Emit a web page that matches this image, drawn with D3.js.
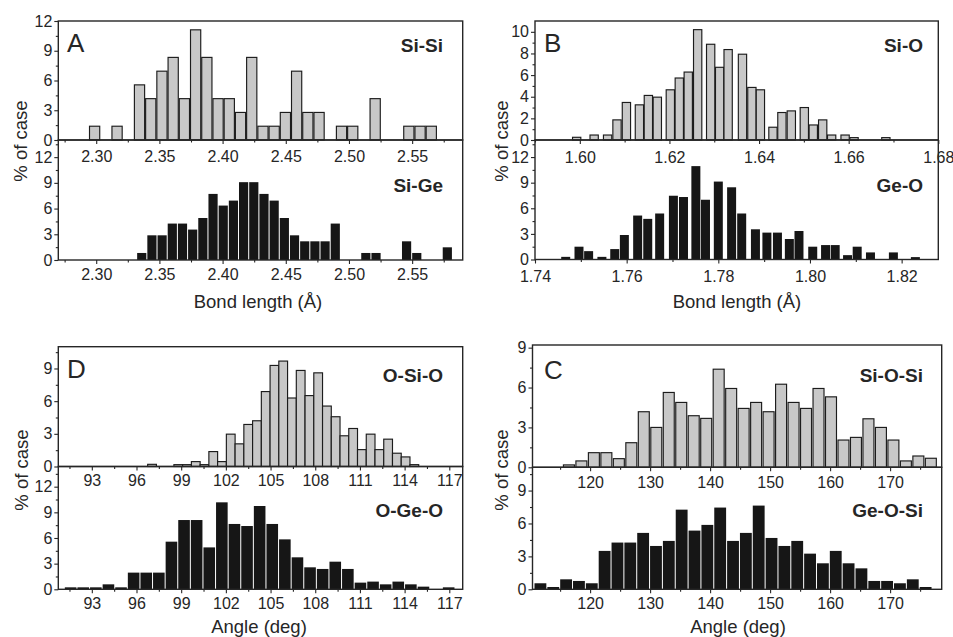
<!DOCTYPE html>
<html><head><meta charset="utf-8">
<script src="https://cdn.jsdelivr.net/npm/d3@7"></script>
<style>
body{margin:0;background:#fff}
svg{display:block}
text{font-family:"Liberation Sans",Arial,Helvetica,sans-serif}
</style>
</head><body>
<svg id="chart" width="953" height="637"></svg>
<script>
// ================= DATA =================
// Panel A – bond lengths (Å), % of case
const siSiBinStart = 2.2943, siSiBinWidth = 0.00888;
const siSiPct = [1.39,0,1.39,0,5.56,4.17,6.94,8.33,4.17,11.11,8.33,4.17,4.17,2.78,8.33,1.39,1.39,2.78,6.94,2.78,2.78,0,1.39,1.39,0,4.17,0,0,1.39,1.39,1.39];
const siGeBinStart = 2.332, siGeBinWidth = 0.00806;
const siGePct = [0.82,2.88,2.88,4.25,4.25,3.55,4.9,7.71,6.35,6.93,9.08,9.08,7.71,6.93,4.9,2.88,2.18,2.18,2.18,4.25,0,0,0.82,0.82,0,0,2.18,0.82,0,0,1.48];
// Panel B – bond lengths (Å)
const siOCenters = [1.5993,1.6032,1.6062,1.6083,1.6104,1.6133,1.6153,1.6173,1.6202,1.6222,1.6242,1.6263,1.6292,1.6312,1.6331,1.6363,1.6384,1.6403,1.6431,1.6451,1.6472,1.6501,1.6521,1.6542,1.6562,1.6592,1.6612,1.6683];
const siOWidth = 0.00185;
const siOPct = [0.25,0.46,0.46,1.86,3.47,3.25,4.12,3.96,4.64,5.73,6.28,10.2,8.85,6.72,8.36,7.93,4.86,4.64,1.18,2.54,2.69,3.0,1.39,1.86,0.46,0.46,0.22,0.22];
const geOCenters = [1.7467,1.7496,1.7517,1.7546,1.7574,1.7595,1.7624,1.7646,1.7672,1.7702,1.7724,1.7751,1.7772,1.7800,1.7829,1.7851,1.7881,1.7906,1.7929,1.7955,1.7976,1.8006,1.8034,1.8055,1.8082,1.8103,1.8132,1.8182,1.8230];
const geOWidth = 0.00218;
const geOPct = [0.31,1.5,0.98,0.31,1.22,2.87,5.15,4.76,5.39,7.47,7.32,10.94,7.0,9.13,8.46,5.39,3.54,3.15,3.15,2.4,3.34,1.5,1.69,1.69,0.51,1.5,0.83,0.83,0.28];
// Panel D – angles (deg)
const oSiOBinStart = 96.75, oSiOBinWidth = 0.587;
const oSiOPct = [0.2,0,0,0.17,0.17,0.45,0.17,1.37,0.45,2.97,2.08,3.86,4.2,6.88,9.28,9.68,6.29,8.82,6.51,8.6,5.55,4.57,2.82,3.49,1.55,2.97,1.55,2.51,1.22,0.88,0.17];
const oGeOBinStart = 91.155, oGeOBinWidth = 0.846;
const oGeOPct = [0.23,0.23,0.23,0.58,0.23,1.95,1.95,1.95,5.57,8.1,8.1,4.9,10.17,7.64,7.4,9.74,7.64,5.84,3.74,2.57,2.38,3.23,2.38,0.78,0.9,0.58,0.9,0.58,0.31,0,0.23];
// Panel C – angles (deg)
const siOSiBinStart = 115.43, siOSiBinWidth = 2.08;
const siOSiPct = [0.18,0.48,1.1,1.1,0.65,1.85,4.18,3.0,5.63,4.88,3.88,3.68,7.38,5.93,4.43,4.88,4.18,6.25,4.88,4.43,5.93,5.3,2.05,2.25,3.65,3.0,2.05,0.48,0.85,0.68];
const geOSiBinStart = 110.65, geOSiBinWidth = 2.14;
const geOSiPct = [0.55,0.21,0.91,0.76,0.55,3.5,4.26,4.26,5.14,3.95,4.41,7.26,5.35,5.87,7.45,4.41,5.14,7.63,4.68,3.95,4.41,3.25,2.37,3.5,2.37,1.91,0.76,0.76,0.55,0.91,0.21];

// tick labels
const ticksA = [2.30,2.35,2.40,2.45,2.50,2.55];
const ticksBtop = [1.60,1.62,1.64,1.66,1.68];
const ticksBbot = [1.74,1.76,1.78,1.80,1.82];
const ticksD = [93,96,99,102,105,108,111,114,117];
const ticksC = [120,130,140,150,160,170];
const yTicks12 = [0,3,6,9,12];
const yTicks10 = [0,2,4,6,8,10];
const yTicks9 = [0,3,6,9];

// ================= helpers =================
const uniformBins = (start, width, vals) => vals.map((v,i)=>({x0:start+i*width, x1:start+(i+1)*width, v}));
const centeredBins = (centers, width, vals) => vals.map((v,i)=>({x0:centers[i]-width/2, x1:centers[i]+width/2, v}));

const GREY = '#c8c8c8', DARK = '#161616', INK = '#262626';
const svg = d3.select('#chart');

function styleAxis(g){
  g.select('.domain').remove();
  g.selectAll('line').attr('stroke', INK).attr('stroke-width', 1.1);
  g.selectAll('text').attr('fill', INK).style('font-size','16px')
   .style('font-family','"Liberation Sans",Arial,sans-serif');
}

function drawSub(p, s){
  const x = d3.scaleLinear().domain(s.xDomain).range([p.xl, p.xr]);
  const y = d3.scaleLinear().domain([0, s.yMax]).range([s.yb, s.yt]);
  const g = svg.append('g');
  const grey = s.kind === 'grey';
  g.append('g').selectAll('rect').data(s.bars.filter(d=>d.v>0)).join('rect')
    .attr('x', d => x(d.x0) + s.inset/2)
    .attr('width', d => Math.max(0.6, x(d.x1) - x(d.x0) - s.inset))
    .attr('y', d => y(d.v))
    .attr('height', d => y(0) - y(d.v))
    .attr('fill', grey ? GREY : DARK)
    .attr('stroke', grey ? '#1c1c1c' : 'none')
    .attr('stroke-width', grey ? 1.15 : 0);
  g.append('rect').attr('x', p.xl).attr('y', s.yt)
    .attr('width', p.xr - p.xl).attr('height', s.yb - s.yt)
    .attr('fill','none').attr('stroke', INK).attr('stroke-width', 1.4);
  const yMinor = d3.range(0, s.yMax, s.yStep/2).filter(v => Math.abs((v / s.yStep) - Math.round(v / s.yStep)) > 1e-6);
  g.append('g').attr('transform', `translate(${p.xl},0)`)
    .call(d3.axisLeft(y).tickValues(yMinor).tickSize(2.5).tickFormat(''))
    .call(styleAxis);
  g.append('g').attr('transform', `translate(${p.xl},0)`)
    .call(d3.axisLeft(y).tickValues(s.yTicks).tickSize(4).tickPadding(2).tickFormat(d3.format('d')))
    .call(styleAxis);
  g.append('g').attr('transform', `translate(0,${s.yb})`)
    .call(d3.axisBottom(x).tickValues(s.xMinor).tickSize(2.5).tickFormat(''))
    .call(styleAxis);
  g.append('g').attr('transform', `translate(0,${s.yb})`)
    .call(d3.axisBottom(x).tickValues(s.xTicks).tickSize(4).tickPadding(s.xPad).tickFormat(s.fmt))
    .call(styleAxis);
  g.append('text').attr('x', p.labelX).attr('y', s.labelY)
    .attr('text-anchor','end').attr('font-weight','bold')
    .style('font-size','19px').attr('fill', INK).text(s.label);
}

const f2 = d3.format('.2f'), fi = d3.format('d');
const minorA = [2.275,2.325,2.375,2.425,2.475,2.525,2.575];
const minorBt = [1.59,1.61,1.63,1.65,1.67];
const minorBb = [1.75,1.77,1.79,1.81];
const minorD = d3.range(91.5, 118, 3);
const minorC = d3.range(115, 180, 10);

const panels = [
  { letter:'A', xl:58.3, xr:462.7, labelX:443, letterX:67, letterY:52,
    yTitleX:27, yTitleY:141, xTitle:'Bond length (Å)', xTitleX:258, xTitleY:308,
    subs:[
      {kind:'grey', bars:uniformBins(siSiBinStart, siSiBinWidth, siSiPct), inset:1,
       xDomain:[2.27,2.59], yt:21, yb:140, yMax:12, yStep:3, yTicks:yTicks12,
       xTicks:ticksA, xMinor:minorA, fmt:f2, xPad:7, label:'Si-Si', labelY:52},
      {kind:'dark', bars:uniformBins(siGeBinStart, siGeBinWidth, siGePct), inset:1,
       xDomain:[2.27,2.59], yt:140, yb:260, yMax:14, yStep:3, yTicks:yTicks12,
       xTicks:ticksA, xMinor:minorA, fmt:f2, xPad:4.5, label:'Si-Ge', labelY:192}
    ]},
  { letter:'B', xl:535, xr:938.3, labelX:923, letterX:544, letterY:52,
    yTitleX:508, yTitleY:141, xTitle:'Bond length (Å)', xTitleX:737, xTitleY:308,
    subs:[
      {kind:'grey', bars:centeredBins(siOCenters, siOWidth, siOPct), inset:0,
       xDomain:[1.59,1.68], yt:21, yb:140, yMax:11, yStep:2, yTicks:yTicks10,
       xTicks:ticksBtop, xMinor:minorBt, fmt:f2, xPad:7.5, label:'Si-O', labelY:52},
      {kind:'dark', bars:centeredBins(geOCenters, geOWidth, geOPct), inset:1,
       xDomain:[1.74,1.828], yt:140, yb:259.5, yMax:14, yStep:3, yTicks:yTicks12,
       xTicks:ticksBbot, xMinor:minorBb, fmt:f2, xPad:7.5, label:'Ge-O', labelY:192}
    ]},
  { letter:'D', xl:58.3, xr:462.7, labelX:443, letterX:67, letterY:378,
    yTitleX:28, yTitleY:470, xTitle:'Angle (deg)', xTitleX:259, xTitleY:633,
    subs:[
      {kind:'grey', bars:uniformBins(oSiOBinStart, oSiOBinWidth, oSiOPct), inset:0,
       xDomain:[90.75,117.9], yt:346.7, yb:466.5, yMax:11, yStep:3, yTicks:yTicks9,
       xTicks:ticksD, xMinor:minorD, fmt:fi, xPad:4.5, label:'O-Si-O', labelY:382},
      {kind:'dark', bars:uniformBins(oGeOBinStart, oGeOBinWidth, oGeOPct), inset:1,
       xDomain:[90.75,117.9], yt:466.5, yb:589.3, yMax:14.36, yStep:3, yTicks:yTicks12,
       xTicks:ticksD, xMinor:minorD, fmt:fi, xPad:4.5, label:'O-Ge-O', labelY:517}
    ]},
  { letter:'C', xl:532.5, xr:941.7, labelX:923, letterX:544, letterY:379,
    yTitleX:508, yTitleY:470, xTitle:'Angle (deg)', xTitleX:738, xTitleY:633,
    subs:[
      {kind:'grey', bars:uniformBins(siOSiBinStart, siOSiBinWidth, siOSiPct), inset:1.5,
       xDomain:[110.4,178.6], yt:345, yb:467.3, yMax:9.2, yStep:3, yTicks:yTicks9,
       xTicks:ticksC, xMinor:minorC, fmt:fi, xPad:5, label:'Si-O-Si', labelY:382},
      {kind:'dark', bars:uniformBins(geOSiBinStart, geOSiBinWidth, geOSiPct), inset:1,
       xDomain:[110.4,178.6], yt:467.3, yb:589.3, yMax:11.12, yStep:3, yTicks:yTicks9,
       xTicks:ticksC, xMinor:minorC, fmt:fi, xPad:4.5, label:'Ge-O-Si', labelY:517}
    ]}
];

panels.forEach(p => {
  p.subs.forEach(s => drawSub(p, s));
  svg.append('text').attr('x', p.letterX).attr('y', p.letterY)
    .style('font-size','26px').attr('fill', INK).text(p.letter);
  svg.append('text').attr('transform', `translate(${p.yTitleX},${p.yTitleY}) rotate(-90)`)
    .attr('text-anchor','middle').style('font-size','18.5px').attr('fill', INK).text('% of case');
  svg.append('text').attr('x', p.xTitleX).attr('y', p.xTitleY)
    .attr('text-anchor','middle').style('font-size','18.5px').attr('fill', INK).text(p.xTitle);
});
</script>
</body></html>
